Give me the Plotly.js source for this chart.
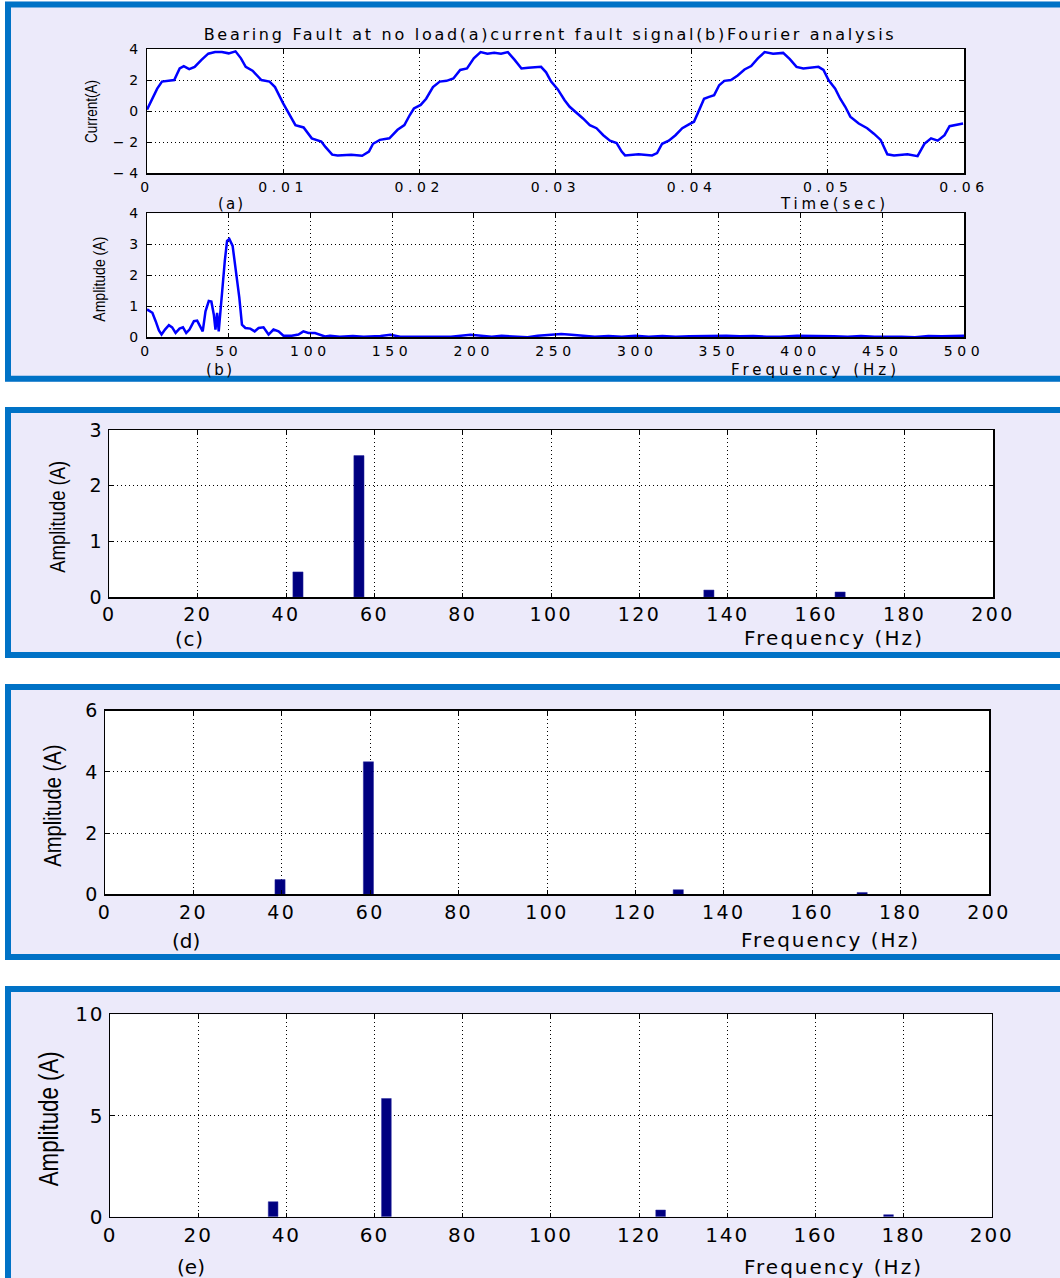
<!DOCTYPE html>
<html>
<head>
<meta charset="utf-8">
<script src="https://cdn.plot.ly/plotly-3.0.1.min.js"></script>
<style>
html,body{margin:0;padding:0;background:#fff;}
#chart{width:1060px;height:1278px;}
</style>
</head>
<body>
<div id="chart"></div>
<script>
// ---- (a) current fault signal ----
const timeA = [0,0.00075,0.0011,0.00175,0.002,0.0024,0.0027,0.0031,0.0035,0.004,0.0045,0.005,0.0055,0.006,0.0065,0.0069,0.00725,0.00775,0.0084,0.009,0.0094,0.01,0.0105,0.0109,0.0115,0.0121,0.0128,0.0131,0.0136,0.014,0.015,0.0158,0.0163,0.0166,0.0171,0.0178,0.0184,0.0189,0.0193,0.0196,0.0201,0.0205,0.021,0.0215,0.022,0.0225,0.023,0.0235,0.024,0.0245,0.025,0.0255,0.026,0.0265,0.027,0.0275,0.028,0.02894,0.02931,0.02968,0.03017,0.03067,0.03104,0.03165,0.03202,0.03252,0.03301,0.03351,0.034,0.03449,0.03486,0.03511,0.0361,0.03709,0.03746,0.03783,0.03832,0.03881,0.03931,0.0398,0.04017,0.04054,0.04091,0.04128,0.04165,0.04202,0.0424,0.04289,0.04338,0.04388,0.04437,0.04486,0.04536,0.04598,0.04672,0.04721,0.0477,0.0482,0.04869,0.04931,0.04968,0.05005,0.05054,0.05091,0.05128,0.05165,0.05227,0.05289,0.05338,0.05388,0.05437,0.05486,0.05585,0.05659,0.05709,0.05758,0.05807,0.05857,0.05894,0.05931,0.05993];
const currentA = [0.1,1.45,1.9,1.95,2.0,2.75,2.9,2.7,2.85,3.3,3.7,3.8,3.8,3.72,3.85,3.4,2.85,2.6,2.0,1.9,1.55,0.5,-0.25,-0.9,-1.05,-1.75,-1.95,-2.3,-2.8,-2.85,-2.8,-2.87,-2.6,-2.1,-1.85,-1.75,-1.2,-0.9,-0.25,0.17,0.4,0.8,1.55,1.9,1.95,2.1,2.65,2.75,3.4,3.8,3.7,3.75,3.7,3.8,3.3,2.75,2.8,2.85,2.5,1.9,1.4,0.7,0.28,-0.15,-0.47,-0.9,-1.1,-1.55,-1.9,-2.05,-2.6,-2.85,-2.77,-2.85,-2.7,-2.1,-1.9,-1.55,-1.1,-0.85,-0.68,0.05,0.8,0.92,1.03,1.67,1.95,2.0,2.3,2.68,2.9,3.4,3.8,3.7,3.75,3.35,2.85,2.75,2.8,2.85,2.65,2.0,1.45,0.8,0.28,-0.35,-0.8,-1.1,-1.45,-1.85,-2.78,-2.85,-2.77,-2.9,-2.1,-1.75,-1.9,-1.55,-0.97,-0.9,-0.8];

// ---- (b) Fourier analysis ----
const freqB = [0,3.3,5.3,7.3,8.9,11,13.4,15.4,17.5,19.9,22,24,26,28.7,30.7,32.7,34.1,35.8,37.8,39.4,40.9,41.9,42.9,43.9,44.9,45.9,47.6,49,50.4,52.4,54.5,56.5,58.1,60.2,63.2,65.9,68.3,71.3,74.4,77.4,80.5,83.5,88.6,92.7,95.7,98.8,102.8,105.9,108.9,112,115,118,126,132.6,142.9,149,155,168,186,198,205,211,217,225,232.9,239.1,245.3,253.5,259.7,265.9,274.1,282.4,290.6,298.9,307.1,315.4,323.6,331.9,340.1,346.3,354.5,362.8,371,379.3,387.5,397.8,404,412.3,420.5,428.8,437,445.3,453.5,461.8,470,478.2,486.5,494.7,500];
const ampB = [0.9,0.79,0.52,0.22,0.09,0.25,0.39,0.32,0.14,0.28,0.32,0.14,0.25,0.52,0.54,0.3,0.19,0.84,1.17,1.15,0.73,0.25,0.79,0.19,0.84,1.49,2.46,3.11,3.17,2.95,2.14,1.28,0.41,0.3,0.28,0.19,0.3,0.32,0.09,0.25,0.19,0.05,0.05,0.09,0.19,0.14,0.14,0.09,0.03,0.05,0.03,0.02,0.04,0.02,0.04,0.08,0.02,0.01,0.02,0.08,0.06,0.02,0.05,0.02,0.0,0.05,0.08,0.11,0.08,0.05,0.02,0.04,0.02,0.05,0.02,0.04,0.02,0.03,0.04,0.06,0.05,0.03,0.04,0.02,0.02,0.05,0.04,0.02,0.03,0.02,0.04,0.02,0.03,0.02,0.0,0.04,0.03,0.05,0.05];

// ---- (c), (d), (e) spectral bars ----
const freqC = [42.7,56.5,135.7,165.4];
const ampC = [0.45,2.54,0.125,0.09];
const freqD = [39.6,59.6,129.7,171.3];
const ampD = [0.48,4.33,0.15,0.06];
const freqE = [37.0,62.7,124.9,176.6];
const ampE = [0.74,5.84,0.33,0.1];

const xTitleTime = 'Time(sec)';
const xTitleFreq = 'Frequency (Hz)';
const yTitleCur = 'Current(A)';
const yTitleAmp = 'Amplitude (A)';
const mainTitle = 'Bearing Fault at no load(a)current fault signal(b)Fourier analysis';

const W = 1060, H = 1278;
const fx = v => v / W;
const fy = v => 1 - v / H;

const SANS = "'DejaVu Sans', sans-serif";
const NARROW = "'Liberation Sans', Arial, sans-serif";
const ctx = document.createElement('canvas').getContext('2d');
function textW(t, size, fam) { ctx.font = size + 'px ' + fam; return ctx.measureText(t).width; }
function spacingFor(t, size, fam, target) { return Math.max(0, (target - textW(t, size, fam)) / Math.max(1, t.length - 1)); }
function sizeFor(t, fam, target) { return 100 * target / textW(t, 100, fam); }

// tick-label letter spacing (MATLAB-like wide spacing)
const spAB = spacingFor('0.06', 14, SANS, 45);
const spCD = spacingFor('200', 19, SANS, 41);
const spE = spacingFor('200', 20, SANS, 42);
const st = document.createElement('style');
st.textContent =
  '.xtick text,.ytick text,.x2tick text,.y2tick text{letter-spacing:' + spAB.toFixed(2) + 'px;}' +
  '.x3tick text,.y3tick text,.x4tick text,.y4tick text{letter-spacing:' + spCD.toFixed(2) + 'px;}' +
  '.x5tick text,.y5tick text{letter-spacing:' + spE.toFixed(2) + 'px;}';
document.head.appendChild(st);

const small = {family: SANS, size: 14, color: '#000'};
const big = {family: SANS, size: 19, color: '#000'};
const bigE = {family: SANS, size: 20, color: '#000'};

function axis(dom, range, dtick, anchor, font) {
  return {
    domain: dom, range: range, dtick: dtick, tick0: 0, anchor: anchor,
    showline: true, linecolor: '#000', linewidth: 1.5, mirror: 'allticks',
    ticks: 'inside', ticklen: 4, tickwidth: 1, tickcolor: '#000',
    showgrid: true, gridcolor: '#000', gridwidth: 1, griddash: '1px,3px',
    zeroline: false, fixedrange: true, tickfont: font
  };
}

const traces = [
  {type: 'scatter', mode: 'lines', x: timeA, y: currentA, xaxis: 'x', yaxis: 'y',
   line: {color: '#0000FF', width: 2.5}},
  {type: 'scatter', mode: 'lines', x: freqB, y: ampB, xaxis: 'x2', yaxis: 'y2',
   line: {color: '#0000FF', width: 2.5}},
  {type: 'bar', x: freqC, y: ampC, width: 2.3, xaxis: 'x3', yaxis: 'y3',
   marker: {color: '#000080', line: {color: '#2a2aa0', width: 0.5}}},
  {type: 'bar', x: freqD, y: ampD, width: 2.3, xaxis: 'x4', yaxis: 'y4',
   marker: {color: '#000080', line: {color: '#2a2aa0', width: 0.5}}},
  {type: 'bar', x: freqE, y: ampE, width: 2.2, xaxis: 'x5', yaxis: 'y5',
   marker: {color: '#000080', line: {color: '#2a2aa0', width: 0.5}}}
];

const blue = '#0072C6';
const white = (y0, y1) => ({type: 'rect', xref: 'paper', yref: 'paper', x0: 0, x1: 1.02, y0: fy(y0), y1: fy(y1), fillcolor: '#fff', line: {width: 0}, layer: 'below'});
const frame = (y0, y1) => ({type: 'rect', xref: 'paper', yref: 'paper', x0: fx(8), x1: fx(1075), y0: fy(y0), y1: fy(y1), line: {color: blue, width: 6}, layer: 'below'});
const shapes = [
  {type: 'rect', xref: 'paper', yref: 'paper', x0: 0, x1: fx(5), y0: 0, y1: 1, fillcolor: '#fff', line: {width: 0}, layer: 'below'},
  white(0, 1.5), white(381.7, 407), white(658, 684), white(960, 986),
  frame(4.5, 378.7), frame(410, 655), frame(687, 957), frame(989, 1300)
];

const fitLengths = {};   // annotation index -> target text length (narrow, tall MATLAB-style y labels)
const annotations = [];
function ann(text, x, y, fam, size, target) {
  const sp = spacingFor(text, size, fam, target);
  annotations.push({text: '<span style="letter-spacing:' + sp.toFixed(2) + 'px">' + text + '</span>',
    xref: 'paper', yref: 'paper', x: fx(x), y: fy(y), xanchor: 'center', yanchor: 'middle',
    showarrow: false, font: {family: fam, size: size, color: '#000'}});
}
function yann(text, x, y, target) {
  const s = sizeFor(text, NARROW, target) / 0.82;   // narrow face: same length, taller glyphs
  fitLengths[annotations.length] = target;
  annotations.push({text: text, xref: 'paper', yref: 'paper', x: fx(x), y: fy(y),
    xanchor: 'center', yanchor: 'middle', showarrow: false, textangle: -90,
    font: {family: NARROW, size: s, color: '#000'}});
}

ann('(a)', 231, 204, SANS, 15, 25);
ann(xTitleTime, 834, 204, SANS, 15, 104);
ann('(b)', 220, 370, SANS, 15, 26);
ann(xTitleFreq, 815, 370, SANS, 15, 165);
yann(yTitleCur, 91, 112, 63);
yann(yTitleAmp, 100, 279, 85);
ann('(c)', 189, 639, SANS, 20, 28);
ann(xTitleFreq, 834, 638, SANS, 20, 178);
yann(yTitleAmp, 58, 517, 112);
ann('(d)', 186, 941, SANS, 20, 28);
ann(xTitleFreq, 830, 940, SANS, 20, 177);
yann(yTitleAmp, 52, 806, 122);
ann('(e)', 191, 1267, SANS, 20, 28);
ann(xTitleFreq, 833, 1267, SANS, 20, 177);
yann(yTitleAmp, 48, 1119, 135);

const titleSp = spacingFor(mainTitle, 16, SANS, 690);

const layout = {
  width: W, height: H,
  margin: {l: 0, r: 0, t: 0, b: 0},
  paper_bgcolor: '#ECEAFA', plot_bgcolor: '#FFFFFF',
  showlegend: false, hovermode: false,
  title: {text: '<span style="letter-spacing:' + titleSp.toFixed(2) + 'px">' + mainTitle + '</span>',
    x: fx(550), y: fy(34), xanchor: 'center', yanchor: 'middle', xref: 'paper', yref: 'paper',
    font: {family: SANS, size: 16, color: '#000'}},
  xaxis: axis([fx(147), fx(964)], [0, 0.06], 0.01, 'y', small),
  yaxis: axis([fy(173.3), fy(49)], [-4, 4], 2, 'x', small),
  xaxis2: axis([fx(147), fx(964)], [0, 500], 50, 'y2', small),
  yaxis2: axis([fy(337.3), fy(213.3)], [0, 4], 1, 'x2', small),
  xaxis3: axis([fx(109.3), fx(993)], [0, 200], 20, 'y3', big),
  yaxis3: axis([fy(597), fy(430)], [0, 3], 1, 'x3', big),
  xaxis4: axis([fx(105), fx(989)], [0, 200], 20, 'y4', big),
  yaxis4: axis([fy(894.3), fy(710.7)], [0, 6], 2, 'x4', big),
  xaxis5: axis([fx(110), fx(991.7)], [0, 200], 20, 'y5', bigE),
  yaxis5: axis([fy(1216.7), fy(1014.3)], [0, 10], 5, 'x5', bigE),
  shapes: shapes,
  annotations: annotations
};

Plotly.newPlot('chart', traces, layout, {staticPlot: true, displayModeBar: false}).then(gd => {
  gd.querySelectorAll('g.annotation').forEach(g => {
    const i = +g.getAttribute('data-index');
    if (fitLengths[i] !== undefined) {
      const t = g.querySelector('text.annotation-text');
      if (t) {
        t.setAttribute('textLength', fitLengths[i]);
        t.setAttribute('lengthAdjust', 'spacingAndGlyphs');
      }
    }
  });
});
</script>
</body>
</html>
